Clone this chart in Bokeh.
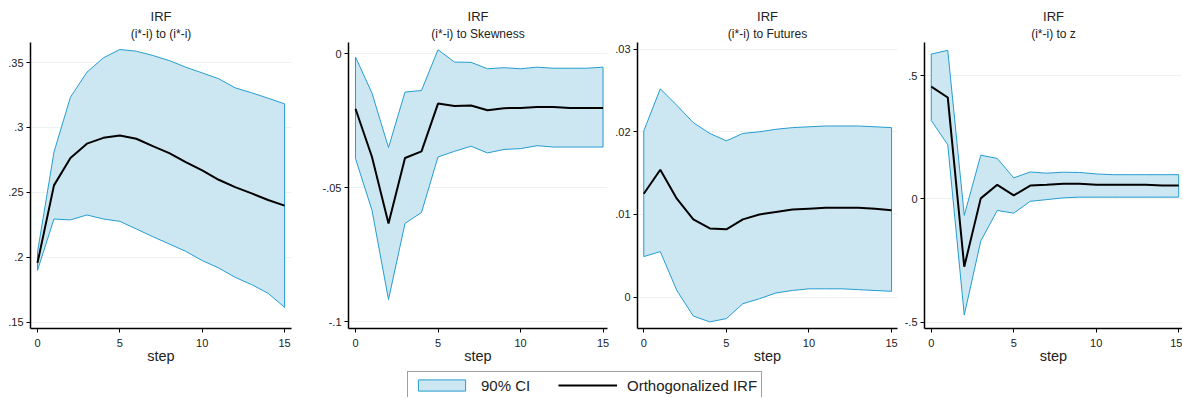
from bokeh.plotting import figure
from bokeh.models import Range1d, FixedTicker, Title, Legend, LegendItem
from bokeh.layouts import row, column
from bokeh.embed import file_html
from bokeh.resources import INLINE

# ---------------- data ----------------
steps = list(range(16))
x_ticks = [0, 5, 10, 15]

# (i*-i) to (i*-i)
up1 = [.204, .281, .3233, .3425, .3536, .3600, .3587, .3554, .3515, .3464, .3420, .3375, .3305, .3267, .3225, .3182]
irf1 = [.1957, .2554, .2764, .2875, .2920, .2938, .2913, .2856, .2802, .2733, .2669, .2597, .2540, .2492, .2441, .2398]
lo1 = [.190, .2295, .2288, .2326, .2295, .2277, .2218, .2159, .2103, .2046, .1975, .1918, .1846, .1790, .1723, .1615]
yt1 = [.15, .2, .25, .3, .35]
yl1 = [".15", ".2", ".25", ".3", ".35"]

# (i*-i) to Skewness
up2 = [-.0012, -.0147, -.0350, -.0143, -.0137, .0015, -.0031, -.0032, -.0056, -.0052, -.0056, -.0050, -.0054, -.0054, -.0054, -.0050]
irf2 = [-.0205, -.0385, -.0633, -.0389, -.0364, -.0186, -.0195, -.0193, -.0211, -.0203, -.0202, -.0199, -.0199, -.0202, -.0202, -.0202]
lo2 = [-.0391, -.0584, -.0917, -.0633, -.0592, -.0385, -.0364, -.0345, -.0370, -.0357, -.0354, -.0343, -.0348, -.0348, -.0348, -.0348]
yt2 = [-.1, -.05, 0]
yl2 = ["-.1", "-.05", "0"]

# (i*-i) to Futures
up3 = [.0201, .0252, .0232, .0211, .0198, .0189, .0198, .0200, .0203, .0205, .0206, .0207, .0207, .0207, .0206, .0205]
irf3 = [.0125, .0154, .0119, .0094, .0083, .0082, .0094, .0100, .0103, .0106, .0107, .0108, .0108, .0108, .0107, .0105]
lo3 = [.0049, .0055, .0008, -.0023, -.0030, -.0026, -.0008, -.0002, .0005, .0008, .0010, .0010, .0010, .0009, .0008, .0007]
yt3 = [0, .01, .02, .03]
yl3 = ["0", ".01", ".02", ".03"]

# (i*-i) to z
up4 = [.587, .602, -.067, .177, .164, .085, .109, .104, .108, .107, .101, .098, .098, .098, .098, .098]
irf4 = [.455, .411, -.275, .002, .057, .014, .054, .057, .061, .061, .057, .057, .057, .057, .054, .054]
lo4 = [.318, .219, -.471, -.171, -.047, -.058, -.010, -.003, .004, .007, .007, .007, .007, .007, .007, .007]
yt4 = [-.5, 0, .5]
yl4 = ["-.5", "0", ".5"]

subtitles = ["(i*-i) to (i*-i)", "(i*-i) to Skewness", "(i*-i) to Futures", "(i*-i) to z"]
main_title = "IRF"
x_label = "step"
legend_labels = ["90% CI", "Orthogonalized IRF"]

# ---------------- style ----------------
FONT = "Liberation Sans"
FILL = "#cce7f2"
EDGE = "#259dcf"
TXT = "#222222"
GRID = "#edf2f4"
NAN = float("nan")


def panel(up, irf, lo, yt, yl, xr, yr, sub, width, bl, br):
    p = figure(width=width, height=368, x_range=Range1d(*xr),
               y_range=Range1d(*yr), output_backend="svg", toolbar_location=None,
               title=None, min_border_left=bl, min_border_right=br,
               min_border_top=42, min_border_bottom=40)
    p.outline_line_color = None
    p.background_fill_color = "white"
    px = steps + steps[::-1]
    py = up + lo[::-1]
    p.patch(px, py, fill_color=FILL, line_color=EDGE, line_width=1)
    p.line(steps, irf, line_color="black", line_width=2)

    p.add_layout(Title(text=sub, align="center", text_font=FONT, text_font_size="12px",
                       text_font_style="normal", text_color=TXT, standoff=3), "above")
    p.add_layout(Title(text=main_title, align="center", text_font=FONT, text_font_size="13px",
                       text_font_style="normal", text_color=TXT, standoff=0), "above")

    for ax in (p.xaxis[0], p.yaxis[0]):
        ax.axis_line_color = "black"
        ax.axis_line_width = 1.5
        ax.major_tick_line_color = "black"
        ax.major_tick_line_width = 1
        ax.major_tick_out = 4
        ax.major_tick_in = 0
        ax.minor_tick_line_color = None
        ax.major_label_text_font = FONT
        ax.major_label_text_font_size = "11px"
        ax.major_label_text_color = TXT
        ax.major_label_standoff = 3

    p.xaxis.ticker = FixedTicker(ticks=x_ticks)
    p.xaxis.major_label_standoff = 6
    p.xaxis.axis_label = x_label
    p.xaxis.axis_label_text_font = FONT
    p.xaxis.axis_label_text_font_size = "14.5px"
    p.xaxis.axis_label_text_font_style = "normal"
    p.xaxis.axis_label_text_color = TXT
    p.xaxis.axis_label_standoff = -2

    p.yaxis.ticker = FixedTicker(ticks=yt)
    p.yaxis.major_label_overrides = {t: l for t, l in zip(yt, yl)}
    p.yaxis.major_label_orientation = "horizontal"

    p.xgrid.visible = False
    p.ygrid.ticker = FixedTicker(ticks=yt)
    p.ygrid.grid_line_color = GRID
    p.ygrid.grid_line_width = 1
    return p


f1 = panel(up1, irf1, lo1, yt1, yl1, (-0.425, 15.42), (.1452, .3654), subtitles[0], 300, 30, 9)
f2 = panel(up2, irf2, lo2, yt2, yl2, (-0.424, 15.27), (-.1025, .0042), subtitles[1], 312, 48, 5)
f3 = panel(up3, irf3, lo3, yt3, yl3, (-0.38, 15.36), (-.0038, .0308), subtitles[2], 288, 25, 3)
f4 = panel(up4, irf4, lo4, yt4, yl4, (-0.41, 15.23), (-.5255, .6338), subtitles[3], 282, 24, 0)

# legend strip
lf = figure(width=1182, height=29, x_range=Range1d(0, 1), y_range=Range1d(0, 1),
            output_backend="svg", toolbar_location=None, min_border=0,
            x_axis_type=None, y_axis_type=None)
lf.outline_line_color = None
r_ci = lf.quad(left=[NAN], right=[NAN], top=[NAN], bottom=[NAN],
               fill_color=FILL, line_color=EDGE, line_width=1)
r_irf = lf.line(x=[NAN, NAN], y=[NAN, NAN], line_color="black", line_width=2)
leg = Legend(items=[LegendItem(label=legend_labels[0], renderers=[r_ci]),
                    LegendItem(label=legend_labels[1], renderers=[r_irf])],
             orientation="horizontal", location=(407, -2), padding=4, spacing=25,
             glyph_width=59, glyph_height=14, label_standoff=10, label_height=18,
             label_width=52,
             label_text_font=FONT, label_text_font_size="15px", label_text_color=TXT,
             border_line_color="#404040", border_line_width=1, margin=0,
             background_fill_color="white", background_fill_alpha=1)
lf.add_layout(leg)

layout = column(row(f1, f2, f3, f4), lf)
open("out.html", "w").write(file_html(layout, INLINE))
